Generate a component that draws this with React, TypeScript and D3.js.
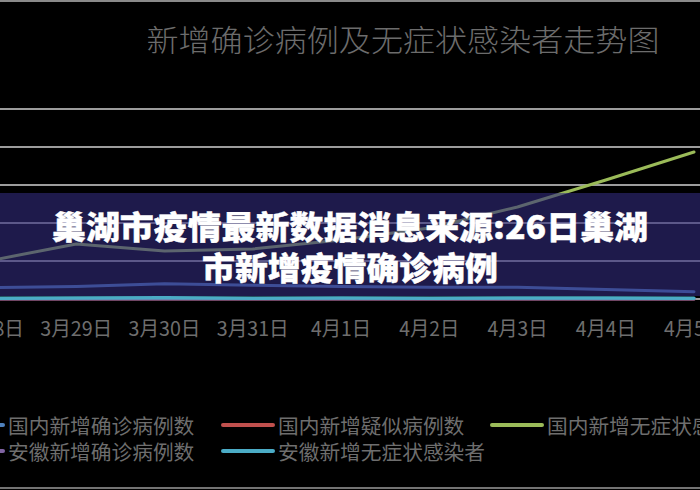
import React from 'react';
import * as d3 from 'd3';

const categories = ['3月28日', '3月29日', '3月30日', '3月31日', '4月1日', '4月2日', '4月3日', '4月4日', '4月5日'];
const domesticConfirmed = [1500, 1650, 2000, 1800, 1650, 1550, 1550, 1250, 950];
const domesticSuspected = [12, 8, 10, 6, 9, 7, 8, 5, 6];
const domesticAsymptomatic = [5000, 7240, 6320, 6580, 7760, 9340, 12100, 15660, 19340];
const anhuiConfirmed = [3, 2, 1, 4, 2, 3, 1, 2, 1];
const anhuiAsymptomatic = [90, 120, 150, 110, 130, 100, 140, 120, 110];
const yTicks = [0, 5000, 10000, 15000, 20000, 25000];

const seriesNames = ['国内新增确诊病例数', '国内新增疑似病例数', '国内新增无症状感染者', '安徽新增确诊病例数', '安徽新增无症状感染者'];
const seriesColors = ['#4f81bd', '#c0504d', '#9bbb59', '#8064a2', '#4bacc6'];
const seriesValues = [domesticConfirmed, domesticSuspected, domesticAsymptomatic, anhuiConfirmed, anhuiAsymptomatic];

const chartTitle = '新增确诊病例及无症状感染者走势图';
const bannerLines = ['巢湖市疫情最新数据消息来源:26日巢湖', '市新增疫情确诊病例'];

const W = 700;
const H = 490;
const CJK = '"Noto Sans CJK SC", "Noto Sans", sans-serif';

export default function App() {
  const x = d3.scalePoint<string>().domain(categories).range([-12, 694]);
  const y = d3.scaleLinear().domain([0, 25000]).range([299, 109]);
  const line = d3
    .line<number>()
    .x((_, i) => x(categories[i]) as number)
    .y((d) => y(d));

  const labelLen = (s: string) => {
    let n = 0;
    for (const ch of s) n += /[0-9]/.test(ch) ? 12 : 18;
    return n;
  };

  const legendCols = [-47, 223, 492];
  const legendRows = [425, 451];

  return (
    <svg width={W} height={H} style={{ position: 'fixed', left: 0, top: 0, background: '#000' }}>
      <rect x={0} y={0} width={W} height={H} fill="#000" />
      <line x1={0} x2={W} y1={1} y2={1} stroke="#b8b8b8" strokeWidth={1.5} />
      <line x1={0} x2={W} y1={488} y2={488} stroke="#9a9a9a" strokeWidth={1.5} />

      <text
        x={403}
        y={38}
        textAnchor="middle"
        dominantBaseline="central"
        fontFamily={CJK}
        fontSize={30}
        fontWeight={300}
        fill="#6c6c6c"
        textLength={513}
        lengthAdjust="spacingAndGlyphs"
      >
        {chartTitle}
      </text>

      {yTicks.map((t) => (
        <line key={t} x1={0} x2={W} y1={y(t)} y2={y(t)} stroke="#d0d0d0" strokeWidth={1.5} />
      ))}

      {seriesValues.map((vals, i) => (
        <path
          key={seriesNames[i]}
          d={line(vals) || ''}
          fill="none"
          stroke={seriesColors[i]}
          strokeWidth={i === 4 ? 3.5 : 3}
          strokeLinejoin="round"
          strokeLinecap="round"
        />
      ))}

      <rect x={0} y={193} width={W} height={103} fill="#322b7d" opacity={0.6} />

      {categories.map((c) => (
        <text
          key={c}
          x={x(c) as number}
          y={327}
          textAnchor="middle"
          dominantBaseline="central"
          fontFamily={CJK}
          fontSize={20}
          fill="#6e6e6e"
          textLength={labelLen(c)}
          lengthAdjust="spacingAndGlyphs"
        >
          {c}
        </text>
      ))}

      {seriesNames.map((name, i) => {
        const col = i % 3;
        const row = Math.floor(i / 3);
        const lx = legendCols[col];
        const ly = legendRows[row];
        return (
          <g key={name}>
            <line x1={lx} x2={lx + 50} y1={ly} y2={ly} stroke={seriesColors[i]} strokeWidth={4} strokeLinecap="round" />
            <text
              x={lx + 55}
              y={ly}
              dominantBaseline="central"
              fontFamily={CJK}
              fontSize={20}
              fill="#6e6e6e"
              textLength={name.length * 20.7}
              lengthAdjust="spacingAndGlyphs"
            >
              {name}
            </text>
          </g>
        );
      })}

      {bannerLines.map((t, i) => (
        <text
          key={t}
          x={350}
          y={i === 0 ? 225 : 266}
          textAnchor="middle"
          dominantBaseline="central"
          fontFamily={CJK}
          fontSize={32}
          fontWeight={900}
          fill="#ffffff"
          stroke="#ffffff"
          strokeWidth={0.4}
          textLength={i === 0 ? 596 : 296}
          lengthAdjust="spacingAndGlyphs"
        >
          {t}
        </text>
      ))}
    </svg>
  );
}
